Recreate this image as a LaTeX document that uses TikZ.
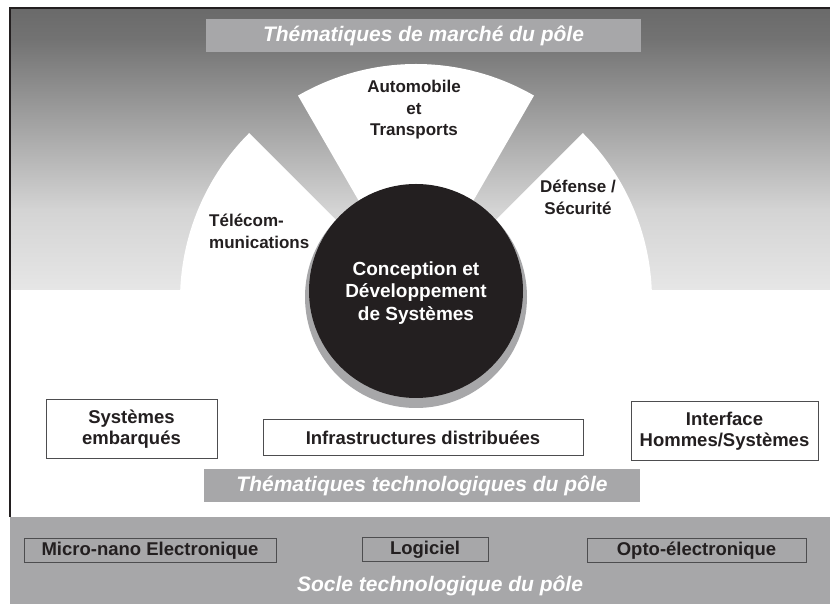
\documentclass[tikz,border=0pt]{standalone}
\usepackage{fontspec}
\setmainfont{Liberation Sans}
\definecolor{ink}{HTML}{231F20}
\definecolor{band}{HTML}{A7A7A9}
\definecolor{gA}{HTML}{6A6A6A}
\definecolor{gB}{HTML}{737373}
\definecolor{gC}{HTML}{D4D4D4}
\definecolor{gD}{HTML}{E6E6E6}
\definecolor{boxline}{HTML}{4D4D4F}
\begin{document}
\begin{tikzpicture}[x=1pt,y=1pt,
  sectortxt/.style={font=\fontsize{17}{21.5}\selectfont\bfseries, text=ink, inner sep=0},
  coretxt/.style={font=\fontsize{19}{22.5}\selectfont\bfseries, text=white, align=center, inner sep=0},
  banner/.style={fill=band, inner sep=0, text=white, font=\fontsize{21}{25}\selectfont\bfseries\itshape},
  topbox/.style={draw=boxline, line width=1pt, fill=white, inner sep=0, align=center, text=ink,
    font=\fontsize{18.5}{21}\selectfont\bfseries},
  basebox/.style={draw=boxline, line width=1pt, fill=band, inner sep=0, align=center, text=ink,
    font=\fontsize{18.5}{21}\selectfont\bfseries},
  sector/.style={fill=white}]
\useasboundingbox (0,0) rectangle (830,604);
\fill[white] (0,0) rectangle (830,604);
% gradient background of the market area
\shade[top color=gA, bottom color=gB] (10,596) rectangle (830,563.5);
\shade[top color=gB, bottom color=gC] (10,564) rectangle (830,393.5);
\shade[top color=gC, bottom color=gD] (10,394) rectangle (830,314);
% frame
\draw[ink, line width=1.2pt] (10,87) -- (10,596) -- (830,596);
% fan sectors
\coordinate (C) at (416,304);
\fill[sector] (C) -- +(-5:236) arc[start angle=-5, end angle=45, radius=236] -- cycle;
\fill[sector] (C) -- +(60:236) arc[start angle=60, end angle=120, radius=236] -- cycle;
\fill[sector] (C) -- +(135:236) arc[start angle=135, end angle=185, radius=236] -- cycle;
% top banner
\node[banner, minimum width=435pt, minimum height=33pt] (market) at (423.5,568.5) {Thématiques de marché du pôle};
% sector labels
\node[sectortxt, align=center] (auto) at (414,494) {Automobile\\et\\Transports};
\node[sectortxt, align=left, anchor=west] (tele) at (209,372.5) {Télécom-\\munications};
\node[sectortxt, align=center] (def) at (578,406.5) {Défense /\\Sécurité};
% central circle
\fill[band] (416,307) circle[radius=111];
\node[circle, fill=ink, minimum size=214pt, inner sep=0] (core) at (416,313) {};
\node[coretxt] (coretext) at (416,311) {Conception et\\Développement\\de Systèmes};
% technology themes
\node[topbox, minimum width=171pt, minimum height=59pt] (emb) at (131.5,174.5) {Systèmes\\embarqués};
\node[topbox, minimum width=320pt, minimum height=36pt] (infra) at (423,166) {Infrastructures distribuées};
\node[topbox, minimum width=187pt, minimum height=59pt] (ihm) at (724.5,172.5) {Interface\\Hommes/Systèmes};
\node[banner, minimum width=436pt, minimum height=33pt] (techno) at (422,118.5) {Thématiques technologiques du pôle};
% base band
\fill[band] (9.5,0) rectangle (830,87);
\node[basebox, minimum width=252pt, minimum height=24pt] (micro) at (150,53) {Micro-nano Electronique};
\node[basebox, minimum width=126pt, minimum height=24pt] (logi) at (425,54) {Logiciel};
\node[basebox, minimum width=219pt, minimum height=24pt] (opto) at (696.5,53) {Opto-électronique};
\node[font=\fontsize{21}{25}\selectfont\bfseries\itshape, text=white, inner sep=0] (socle) at (440,18) {Socle technologique du pôle};
\end{tikzpicture}
\end{document}
